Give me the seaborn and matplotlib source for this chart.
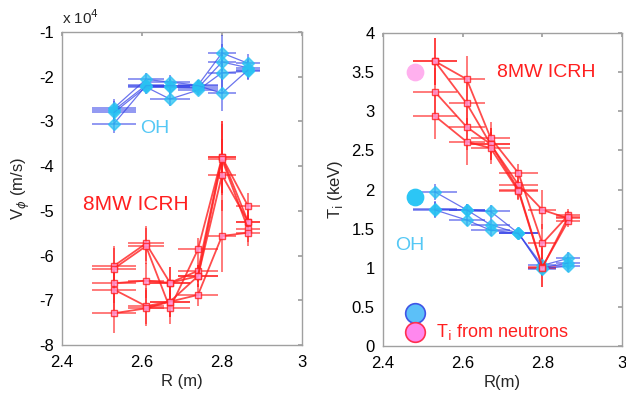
import numpy as np
import pandas as pd
import seaborn as sns
import matplotlib
matplotlib.use("Agg")
import matplotlib.pyplot as plt
from matplotlib.ticker import FuncFormatter

# ---------------- data ----------------
R = [2.53, 2.61, 2.67, 2.74, 2.80, 2.865]

# toroidal rotation, m/s  (OH profiles)
v_oh1 = [-27000, -20600, -21200, -21900, -14700, -17000]
v_oh2 = [-27500, -21900, -22300, -22500, -16700, -18000]
v_oh3 = [-28000, -22300, -25000, -23000, -19100, -18800]
v_oh4 = [-30500, -22000, -22000, -22000, -23700, -18500]

# toroidal rotation, m/s  (8MW ICRH profiles)
v_ic1 = [-62300, -57300, -66100, -63400, -38000, -48900]
v_ic2 = [-62900, -57900, -71800, -58600, -38000, -52400]
v_ic3 = [-66200, -65600, -66100, -64600, -42000, -52400]
v_ic4 = [-67600, -71300, -70300, -64600, -38500, -54000]
v_ic5 = [-72900, -71800, -70300, -68800, -55600, -54900]

# ion temperature, keV
t_oh1 = [1.97, 1.74, 1.72, 1.44, 1.03, 1.12]
t_oh2 = [1.75, 1.74, 1.55, 1.44, 0.99, 1.02]
t_oh3 = [1.74, 1.61, 1.48, 1.44, 1.00, 1.06]

t_ic1 = [3.64, 3.41, 2.66, 2.21, 1.31, 1.67]
t_ic2 = [3.64, 3.10, 2.58, 2.06, 1.74, 1.63]
t_ic3 = [3.25, 2.80, 2.58, 2.00, 1.01, 1.60]
t_ic4 = [2.94, 2.61, 2.53, 1.98, 1.00, 1.65]

# error bar half-widths
r_err = [0.055, 0.045, 0.05, 0.05, 0.035, 0.03]
v_err_oh = [2000, 1500, 1500, 1200, 4000, 2000]
v_err_ic = [4500, 4000, 3500, 2500, 8000, 3000]
t_err_oh = [0.1, 0.08, 0.08, 0.06, 0.1, 0.08]
t_err_ic = [0.3, 0.3, 0.2, 0.12, 0.25, 0.08]

# neutron Ti points
R_neut = [2.48]
t_neut_oh = [1.9]
t_neut_ic = [3.5]

# ---------------- style ----------------
sns.set_theme(style="white")
plt.rcParams['font.family'] = ['Liberation Sans', 'DejaVu Sans']
plt.rcParams['xtick.direction'] = 'in'
plt.rcParams['ytick.direction'] = 'in'

BLUE = '#3a46e8'
CYAN = '#29c2f2'
RED = '#ff1f1f'
PINK = '#ff9fe0'

def long_df(profiles, yname):
    rows = []
    for k, vals in enumerate(profiles):
        for r, v in zip(R, vals):
            rows.append({'R': r, yname: v, 'profile': k})
    return pd.DataFrame(rows)

fig = plt.figure(figsize=(6.26, 3.98), dpi=100)
axL = fig.add_axes([62/626, 1-345/398, 240/626, 313/398])
axR = fig.add_axes([383/626, 1-346/398, 239/626, 313/398])

def draw_group(ax, profiles, yname, yerr, line_c, mk_c, marker, ms, mec, lw, alpha):
    for vals in profiles:
        ax.errorbar(R, vals, xerr=r_err, yerr=yerr, fmt='none', ecolor=line_c,
                    elinewidth=1.3, alpha=alpha * 0.8, capsize=0, zorder=2)
    df = long_df(profiles, yname)
    sns.lineplot(data=df, x='R', y=yname, units='profile', estimator=None, ax=ax,
                 color=line_c, lw=lw, alpha=alpha, marker=marker, markersize=ms,
                 markerfacecolor=mk_c, markeredgecolor=mec, markeredgewidth=1.0,
                 legend=False, zorder=3, sort=False)

# left panel
draw_group(axL, [v_oh1, v_oh2, v_oh3, v_oh4], 'V', v_err_oh, BLUE, CYAN, 'D', 6, CYAN, 0.9, 0.75)
draw_group(axL, [v_ic1, v_ic2, v_ic3, v_ic4, v_ic5], 'V', v_err_ic, RED, PINK, 's', 5, RED, 1.3, 0.8)

axL.set_xlim(2.4, 3.0)
axL.set_ylim(-80000, -10000)
axL.set_xticks([2.4, 2.6, 2.8, 3.0])
axL.set_xticklabels(['2.4', '2.6', '2.8', '3'])
axL.set_yticks(np.arange(-80000, -9999, 10000))
axL.yaxis.set_major_formatter(FuncFormatter(lambda v, p: f'{v/1e4:.0f}'))
axL.set_xlabel('R (m)', fontsize=12, labelpad=3)
axL.set_ylabel(r'V$_{\phi}$ (m/s)', fontsize=12, labelpad=5)
axL.text(0.0, 1.015, r'x 10$^4$', transform=axL.transAxes, fontsize=11, ha='left', va='bottom')
axL.text(2.595, -31500, 'OH', color='#55c8f5', fontsize=14, ha='left', va='center')
axL.text(2.452, -48600, '8MW ICRH', color=RED, fontsize=15, ha='left', va='center')

# right panel
draw_group(axR, [t_oh1, t_oh2, t_oh3], 'T', t_err_oh, BLUE, CYAN, 'D', 6, CYAN, 0.9, 0.75)
draw_group(axR, [t_ic1, t_ic2, t_ic3, t_ic4], 'T', t_err_ic, RED, PINK, 's', 5, RED, 1.3, 0.8)
sns.scatterplot(x=R_neut, y=t_neut_oh, ax=axR, s=140, color='#2cc6f5', edgecolor='#2cc6f5', zorder=5, legend=False)
sns.scatterplot(x=R_neut, y=t_neut_ic, ax=axR, s=140, color='#ffb0ee', edgecolor='#ffb0ee', zorder=5, legend=False)

axR.set_xlim(2.4, 3.0)
axR.set_ylim(0, 4)
axR.set_xticks([2.4, 2.6, 2.8, 3.0])
axR.set_xticklabels(['2.4', '2.6', '2.8', '3'])
axR.set_yticks(np.arange(0, 4.01, 0.5))
axR.set_yticklabels(['0', '0.5', '1', '1.5', '2', '2.5', '3', '3.5', '4'])
axR.set_xlabel('R(m)', fontsize=12, labelpad=3)
axR.set_ylabel(r'T$_\mathrm{i}$ (keV)', fontsize=12, labelpad=5)
axR.text(2.685, 3.5, '8MW ICRH', color=RED, fontsize=14, ha='left', va='center')
axR.text(2.43, 1.29, 'OH', color='#55c8f5', fontsize=14, ha='left', va='center')
axR.scatter([2.48], [0.42], s=200, color='#5cc0f8', edgecolor='#3f55e6', linewidth=1.2, zorder=6)
axR.scatter([2.48], [0.18], s=200, color='#ff88ee', edgecolor='#ff3050', linewidth=1.2, zorder=6)
axR.text(2.532, 0.18, r'T$_\mathrm{i}$ from neutrons', color=RED, fontsize=13, ha='left', va='center')

for ax in (axL, axR):
    for s in ax.spines.values():
        s.set_color('#a0a0a0')
        s.set_linewidth(1.0)
    ax.tick_params(axis='both', labelsize=12, length=3, color='#a0a0a0',
                   top=True, right=True, labelcolor='black')
    ax.tick_params(axis='x', pad=7)
    ax.tick_params(axis='y', pad=6)

fig.savefig('out.png', dpi=100)
